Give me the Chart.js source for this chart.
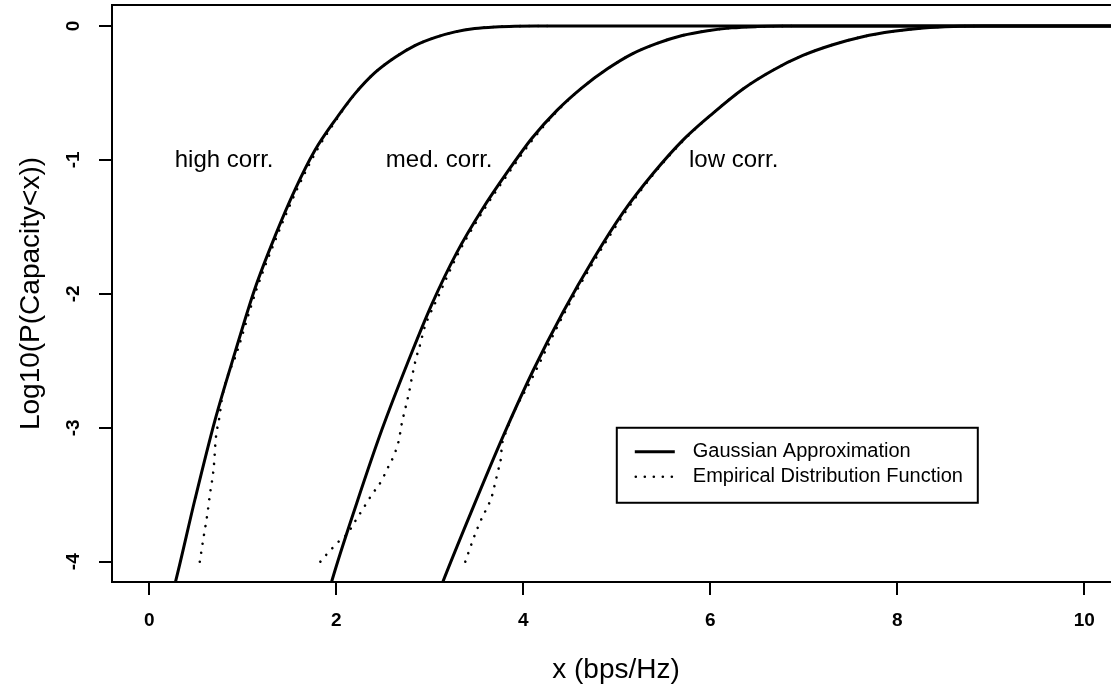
<!DOCTYPE html>
<html>
<head>
<meta charset="utf-8">
<script src="https://cdn.jsdelivr.net/npm/chart.js@4"></script>
<style>
  html, body { margin: 0; padding: 0; background: #fff; overflow: hidden; }
  #wrap { width: 1122px; height: 687px; }
</style>
</head>
<body>
<div id="wrap"><canvas id="capChart" width="1122" height="687"></canvas></div>
<script>
// Axis ticks
const xTickValues = [0, 2, 4, 6, 8, 10];
const yTickValues = [0, -1, -2, -3, -4];

// Gaussian approximation curves
const gaussHighX = [0.23, 0.28, 0.49, 0.70, 0.92, 1.13, 1.35, 1.56, 1.77, 1.99, 2.20, 2.41, 2.63, 2.84, 3.06, 3.27, 3.48, 3.70, 3.91, 4.13, 10.5];
const gaussHighY = [-4.28, -4.15, -3.53, -2.95, -2.43, -1.96, -1.56, -1.22, -0.93, -0.70, -0.505, -0.35, -0.233, -0.146, -0.085, -0.044, -0.019, -0.0068, -0.0015, 0, 0];

const gaussMedX = [1.90, 1.95, 2.22, 2.49, 2.76, 3.02, 3.29, 3.56, 3.83, 4.09, 4.36, 4.63, 4.90, 5.16, 5.43, 5.70, 5.97, 6.23, 6.50, 6.77, 7.03, 10.5];
const gaussMedY = [-4.28, -4.15, -3.56, -3.01, -2.52, -2.08, -1.69, -1.37, -1.09, -0.84, -0.63, -0.46, -0.32, -0.21, -0.13, -0.071, -0.035, -0.014, -0.0045, -0.0007, 0, 0];

const gaussLowX = [3.07, 3.14, 3.46, 3.78, 4.10, 4.43, 4.75, 5.07, 5.39, 5.71, 6.03, 6.35, 6.67, 6.99, 7.31, 7.63, 7.96, 8.28, 8.60, 8.92, 10.5];
const gaussLowY = [-4.28, -4.15, -3.60, -3.07, -2.58, -2.13, -1.74, -1.39, -1.10, -0.85, -0.65, -0.47, -0.33, -0.22, -0.14, -0.08, -0.04, -0.015, -0.003, 0, 0];

// Empirical distribution functions
const empHighX = [0.54, 0.58, 0.62, 0.65, 0.69, 0.71, 0.75, 0.78, 0.94, 1.15, 1.37, 1.58, 1.79, 2.00, 2.20, 2.41, 2.63, 2.84, 3.06, 3.27, 3.48, 3.70, 3.91, 4.3];
const empHighY = [-4.00, -3.82, -3.65, -3.49, -3.29, -3.09, -2.92, -2.77, -2.43, -1.96, -1.56, -1.22, -0.93, -0.70, -0.505, -0.35, -0.233, -0.146, -0.085, -0.044, -0.019, -0.0068, -0.0015, 0];

const empMedX = [1.83, 1.89, 1.97, 2.04, 2.12, 2.20, 2.29, 2.38, 2.48, 2.55, 2.62, 2.67, 2.70, 2.74, 2.78, 2.81, 2.85, 2.90, 2.94, 2.99, 3.05, 3.11, 3.16, 3.31, 3.58, 3.85, 4.11, 4.37, 4.63, 4.90, 5.16, 5.43, 5.70, 5.97, 6.23, 6.50, 6.9];
const empMedY = [-4.00, -3.95, -3.89, -3.84, -3.79, -3.70, -3.60, -3.50, -3.40, -3.30, -3.20, -3.09, -2.97, -2.85, -2.73, -2.62, -2.49, -2.37, -2.26, -2.17, -2.08, -1.99, -1.91, -1.69, -1.37, -1.09, -0.84, -0.63, -0.46, -0.32, -0.21, -0.13, -0.071, -0.035, -0.014, -0.0045, 0];

const empLowX = [3.38, 3.42, 3.46, 3.51, 3.56, 3.61, 3.66, 3.70, 3.73, 3.76, 3.77, 3.80, 4.13, 4.45, 4.77, 5.09, 5.40, 5.72, 6.03, 6.35, 6.67, 6.99, 7.31, 7.63, 7.96, 8.28, 8.60, 8.9];
const empLowY = [-4.00, -3.92, -3.84, -3.75, -3.67, -3.60, -3.52, -3.41, -3.32, -3.23, -3.14, -3.06, -2.58, -2.13, -1.74, -1.39, -1.10, -0.85, -0.65, -0.47, -0.33, -0.22, -0.14, -0.08, -0.04, -0.015, -0.003, 0];

// Curve labels and legend
const curveNames = ['high corr.', 'med. corr.', 'low corr.'];
const curveNameX = [0.8, 3.1, 6.25];
const curveNameY = [-1, -1, -1];
const legendNames = ['Gaussian Approximation', 'Empirical Distribution Function'];
const legendAt = [5, -3];

const FONT = "'Liberation Sans', Arial, Helvetica, sans-serif";

function pts(xs, ys) {
    return xs.map((x, i) => ({ x: x, y: ys[i] }));
}

function solidSet(label, xs, ys) {
    return {
        label: label,
        data: pts(xs, ys),
        borderColor: '#000',
        borderWidth: 3,
        pointRadius: 0,
        fill: false,
        cubicInterpolationMode: 'monotone'
    };
}

function dottedSet(label, xs, ys) {
    return {
        label: label,
        data: pts(xs, ys),
        borderColor: '#000',
        borderWidth: 2.6,
        borderDash: [0.01, 9],
        borderCapStyle: 'round',
        pointRadius: 0,
        fill: false,
        cubicInterpolationMode: 'monotone'
    };
}

// frame, rotated y labels, curve names and legend box
const extras = {
    id: 'extras',
    afterDraw(chart) {
        const { ctx, chartArea: a, scales: { x, y } } = chart;
        ctx.save();
        ctx.strokeStyle = '#000';
        ctx.fillStyle = '#000';
        ctx.lineWidth = 2;
        ctx.strokeRect(a.left, a.top, a.right - a.left, a.bottom - a.top);

        ctx.font = 'bold 19px ' + FONT;
        ctx.textAlign = 'center';
        ctx.textBaseline = 'middle';
        yTickValues.forEach(v => {
            ctx.save();
            ctx.translate(74, y.getPixelForValue(v));
            ctx.rotate(-Math.PI / 2);
            ctx.fillText(String(v), 0, 0);
            ctx.restore();
        });

        ctx.font = '24px ' + FONT;
        curveNames.forEach((t, i) => {
            ctx.fillText(t, x.getPixelForValue(curveNameX[i]), y.getPixelForValue(curveNameY[i]));
        });

        const lx = x.getPixelForValue(legendAt[0]);
        const ly = y.getPixelForValue(legendAt[1]);
        ctx.lineWidth = 2;
        ctx.strokeRect(lx, ly, 361, 75);
        ctx.lineWidth = 3;
        ctx.beginPath();
        ctx.moveTo(lx + 18, ly + 24);
        ctx.lineTo(lx + 58, ly + 24);
        ctx.stroke();
        ctx.lineWidth = 2.6;
        ctx.lineCap = 'round';
        ctx.setLineDash([0.01, 9]);
        ctx.beginPath();
        ctx.moveTo(lx + 19, ly + 49);
        ctx.lineTo(lx + 57, ly + 49);
        ctx.stroke();
        ctx.setLineDash([]);
        ctx.font = '20px ' + FONT;
        ctx.textAlign = 'left';
        ctx.fillText(legendNames[0], lx + 76, ly + 24);
        ctx.fillText(legendNames[1], lx + 76, ly + 49);
        ctx.restore();
    }
};

const ctx = document.getElementById('capChart').getContext('2d');
new Chart(ctx, {
    type: 'line',
    data: {
        datasets: [
            solidSet('Gaussian high', gaussHighX, gaussHighY),
            solidSet('Gaussian med', gaussMedX, gaussMedY),
            solidSet('Gaussian low', gaussLowX, gaussLowY),
            dottedSet('Empirical high', empHighX, empHighY),
            dottedSet('Empirical med', empMedX, empMedY),
            dottedSet('Empirical low', empLowX, empLowY)
        ]
    },
    options: {
        responsive: false,
        animation: false,
        layout: { padding: { top: 5, right: 2, left: 0, bottom: 0 } },
        plugins: { legend: { display: false }, tooltip: { enabled: false } },
        scales: {
            x: {
                type: 'linear',
                min: -0.399,
                max: 10.382,
                afterFit: s => { s.height = 105; },
                afterBuildTicks: s => { s.ticks = xTickValues.map(v => ({ value: v })); },
                ticks: {
                    color: '#000',
                    font: { family: FONT, size: 19, weight: 'bold' },
                    padding: 14,
                    maxRotation: 0,
                    autoSkip: false
                },
                grid: {
                    display: true, drawOnChartArea: false, drawTicks: true,
                    tickLength: 13, color: '#000', lineWidth: 2, tickWidth: 2, tickColor: '#000'
                },
                border: { display: true, color: '#000', width: 2 },
                title: {
                    display: true,
                    text: 'x (bps/Hz)',
                    color: '#000',
                    font: { family: FONT, size: 28 },
                    padding: { top: 0, bottom: 0 }
                }
            },
            y: {
                min: -4.1516,
                max: 0.1568,
                afterFit: s => { s.width = 112; },
                afterBuildTicks: s => { s.ticks = yTickValues.map(v => ({ value: v })); },
                ticks: { display: false },
                grid: {
                    display: true, drawOnChartArea: false, drawTicks: true,
                    tickLength: 13, color: '#000', lineWidth: 2, tickWidth: 2, tickColor: '#000'
                },
                border: { display: true, color: '#000', width: 2 },
                title: {
                    display: true,
                    text: 'Log10(P(Capacity<x))',
                    color: '#000',
                    font: { family: FONT, size: 28 },
                    padding: { top: 14, bottom: 0 }
                }
            }
        }
    },
    plugins: [extras]
});
</script>
</body>
</html>
